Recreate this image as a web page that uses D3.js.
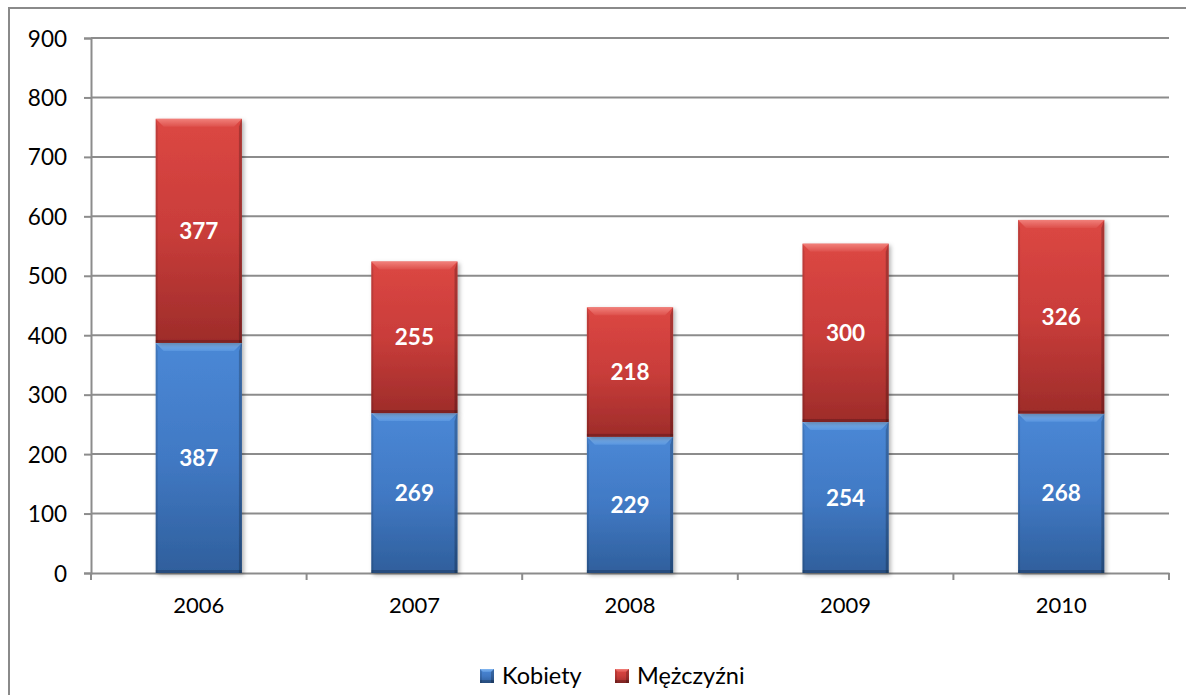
<!DOCTYPE html>
<html>
<head>
<meta charset="utf-8">
<script src="https://cdn.jsdelivr.net/npm/d3@7"></script>
<style>
  body { margin: 0; background: #fff; }
  svg { display: block; font-family: Lato, "Open Sans", sans-serif; }
</style>
</head>
<body>
<svg id="chart" width="1186" height="695"></svg>
<script>
const years = ["2006", "2007", "2008", "2009", "2010"];
const kobiety = [387, 269, 229, 254, 268];
const mezczyzni = [377, 255, 218, 300, 326];
const seriesNames = ["Kobiety", "Mężczyźni"];
const yTicks = [0, 100, 200, 300, 400, 500, 600, 700, 800, 900];

const svg = d3.select("#chart");
const margin = {left: 91, right: 1169, top: 38, bottom: 573};

const x = d3.scaleBand().domain(years).range([margin.left, margin.right]).paddingInner(0).paddingOuter(0);
const y = d3.scaleLinear().domain([0, 900]).range([margin.bottom, margin.top]);
const barW = x.bandwidth() * 0.4;

// gradients
const defs = svg.append("defs");
function grad(id, stops) {
  const g = defs.append("linearGradient").attr("id", id).attr("x1", 0).attr("y1", 0).attr("x2", 0).attr("y2", 1);
  stops.forEach(s => g.append("stop").attr("offset", s[0]).attr("stop-color", s[1]));
}
grad("gBlue", [[0, "#4a88d6"], [0.5, "#4179c4"], [1, "#2f5f9c"]]);
grad("gRed", [[0, "#dc4743"], [0.5, "#c93d3a"], [1, "#9e2c2a"]]);
grad("hBlue", [[0, "#8fc0f5"], [1, "#5a97e0"]]);
grad("hRed", [[0, "#f58a84"], [1, "#de524d"]]);
const sh = defs.append("filter").attr("id", "shadow").attr("x", "-10%").attr("y", "-10%").attr("width", "130%").attr("height", "130%");
sh.append("feDropShadow").attr("dx", 2).attr("dy", 2).attr("stdDeviation", 2).attr("flood-color", "#000").attr("flood-opacity", 0.3);

// frame
svg.append("path").attr("d", "M9,695 L9,8 L1190,8")
  .attr("fill", "none").attr("stroke", "#8a8a8a").attr("stroke-width", 2);

// grid
svg.append("g").selectAll("line").data(yTicks.slice(1)).join("line")
  .attr("x1", margin.left).attr("x2", margin.right)
  .attr("y1", d => y(d)).attr("y2", d => y(d))
  .attr("stroke", "#8c8c8c").attr("stroke-width", 2);

// y axis
const yAxis = svg.append("g").attr("transform", `translate(${margin.left},0)`)
  .call(d3.axisLeft(y).tickValues(yTicks).tickSize(7).tickPadding(17));
yAxis.select(".domain").attr("stroke", "#8c8c8c").attr("stroke-width", 2);
yAxis.selectAll(".tick line").attr("stroke", "#8c8c8c").attr("stroke-width", 2);
yAxis.selectAll("text").attr("font-size", 22.5).attr("fill", "#000").attr("font-family", "Lato, sans-serif").attr("dy", "0.36em");

// x axis
const xAxis = svg.append("g").attr("transform", `translate(0,${margin.bottom})`)
  .call(d3.axisBottom(x).tickSize(0).tickPadding(24));
xAxis.select(".domain").attr("stroke", "#8c8c8c").attr("stroke-width", 2);
xAxis.selectAll("text").attr("font-size", 22).attr("fill", "#000").attr("font-family", "Lato, sans-serif");
xAxis.selectAll(".bound").data(years.concat(["end"])).join("line")
  .attr("class", "bound")
  .attr("x1", (d, i) => i < years.length ? x(d) : margin.right)
  .attr("x2", (d, i) => i < years.length ? x(d) : margin.right)
  .attr("y1", 0).attr("y2", 7)
  .attr("stroke", "#8c8c8c").attr("stroke-width", 2);

// bars
const stacked = years.map((yr, i) => [
  {yr, s: 0, y0: 0, y1: kobiety[i], v: kobiety[i]},
  {yr, s: 1, y0: kobiety[i], y1: kobiety[i] + mezczyzni[i], v: mezczyzni[i]}
]).flat();

function bevel(g, x0, y0, w, h, s, b) {
  g.append("rect").attr("x", x0).attr("y", y0).attr("width", w).attr("height", h)
    .attr("fill", s === 0 ? "url(#gBlue)" : "url(#gRed)");
  // top highlight
  g.append("path").attr("d", `M${x0},${y0} L${x0 + w},${y0} L${x0 + w - b},${y0 + b} L${x0 + b},${y0 + b} Z`)
    .attr("fill", s === 0 ? "url(#hBlue)" : "url(#hRed)").attr("opacity", 0.85);
  // sides
  g.append("path").attr("d", `M${x0},${y0} L${x0 + 2},${y0 + b} L${x0 + 2},${y0 + h} L${x0},${y0 + h} Z`)
    .attr("fill", "#000").attr("opacity", 0.12);
  g.append("path").attr("d", `M${x0 + w},${y0} L${x0 + w - 3},${y0 + b} L${x0 + w - 3},${y0 + h} L${x0 + w},${y0 + h} Z`)
    .attr("fill", "#000").attr("opacity", 0.22);
  g.append("rect").attr("x", x0).attr("y", y0 + h - 3).attr("width", w).attr("height", 3)
    .attr("fill", "#000").attr("opacity", 0.2);
}

const bars = svg.append("g");
stacked.forEach(d => {
  const x0 = x(d.yr) + (x.bandwidth() - barW) / 2;
  const g = bars.append("g").attr("filter", "url(#shadow)");
  bevel(g, x0, y(d.y1), barW, y(d.y0) - y(d.y1), d.s, 8);
});

bars.selectAll("text").data(stacked).join("text")
  .attr("x", d => x(d.yr) + x.bandwidth() / 2)
  .attr("y", d => (y(d.y0) + y(d.y1)) / 2)
  .attr("dy", "0.36em")
  .attr("text-anchor", "middle")
  .attr("fill", "#fff").attr("font-weight", "bold").attr("font-size", 22.5)
  .text(d => d.v);

// legend
const legend = svg.append("g");
const legX = [480, 615];
seriesNames.forEach((n, i) => {
  const g = legend.append("g");
  bevel(g, legX[i], 669, 14, 14, i, 3);
  g.append("text").attr("x", legX[i] + 22).attr("y", 676).attr("dy", "0.36em")
    .attr("font-size", 23.5).attr("fill", "#000").text(n);
});
</script>
</body>
</html>
